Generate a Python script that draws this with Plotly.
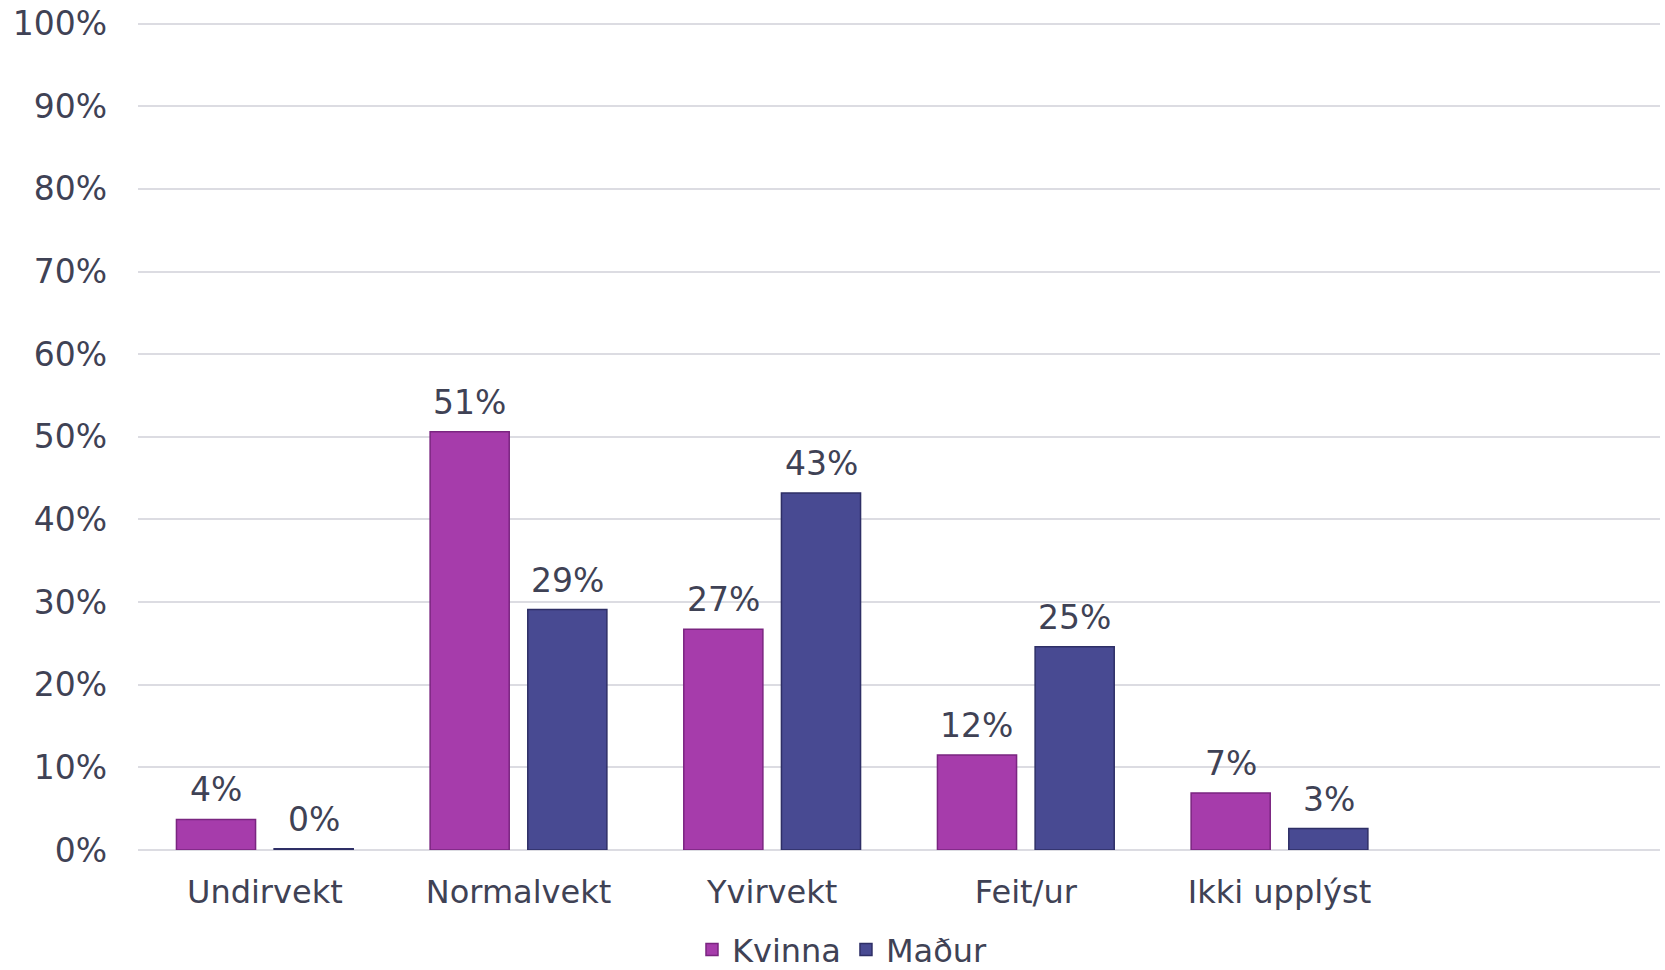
import plotly.graph_objects as go

categories = ["Undirvekt", "Normalvekt", "Yvirvekt", "Feit/ur", "Ikki upplýst"]
kvinna = [3.7, 50.6, 26.7, 11.5, 6.9]
madur = [0.15, 29.1, 43.2, 24.6, 2.6]
tick_vals = [0, 10, 20, 30, 40, 50, 60, 70, 80, 90, 100]
tick_text = [f"{v}%" for v in tick_vals]

txt = "#3F4255"
font = "DejaVu Sans, Verdana, sans-serif"

fig = go.Figure()
fig.add_trace(go.Bar(
    name="Kvinna", x=categories, y=kvinna,
    marker=dict(color="#A63CAB", line=dict(color="#7A2580", width=1.5)),
))
fig.add_trace(go.Bar(
    name="Maður", x=categories, y=madur,
    marker=dict(color="#484A92", line=dict(color="#2E2F66", width=1.5)),
))

# value labels
for vals, shift in ((kvinna, -49), (madur, 49)):
    for c, v in zip(categories, vals):
        fig.add_annotation(x=c, y=v, xshift=shift, yshift=8, text=f"{v:.0f}%",
                           showarrow=False, yanchor="bottom",
                           font=dict(size=33, color=txt, family=font))

fig.update_layout(
    width=1665, height=970,
    margin=dict(l=138, r=5, t=22, b=120, autoexpand=False),
    paper_bgcolor="white", plot_bgcolor="white",
    barmode="group", bargap=0.23, bargroupgap=0.19,
    font=dict(family=font, size=32, color=txt),
    showlegend=True,
    legend=dict(orientation="h", xref="container", x=0.506, xanchor="center",
                yref="container", y=0.021, yanchor="middle",
                font=dict(size=32, color=txt), itemwidth=30,
                traceorder="normal"),
)
fig.update_xaxes(range=[-0.5, 5.5], showgrid=False, showline=False, automargin=False,
                 ticks="", tickfont=dict(size=32, color=txt), ticklabelstandoff=20)
fig.update_yaxes(range=[0, 100.2], tickvals=tick_vals, ticktext=tick_text, automargin=False,
                 showgrid=True, gridcolor="#DCDCE2", gridwidth=2,
                 zeroline=True, zerolinecolor="#DCDCE2", zerolinewidth=2,
                 showline=False, ticks="", tickfont=dict(size=33, color=txt),
                 ticklabelstandoff=30, ticklabeloverflow="allow")

fig.write_html("out.html", config={"displayModeBar": False},
               post_script="document.body.style.margin='0';document.body.style.overflow='hidden';")
